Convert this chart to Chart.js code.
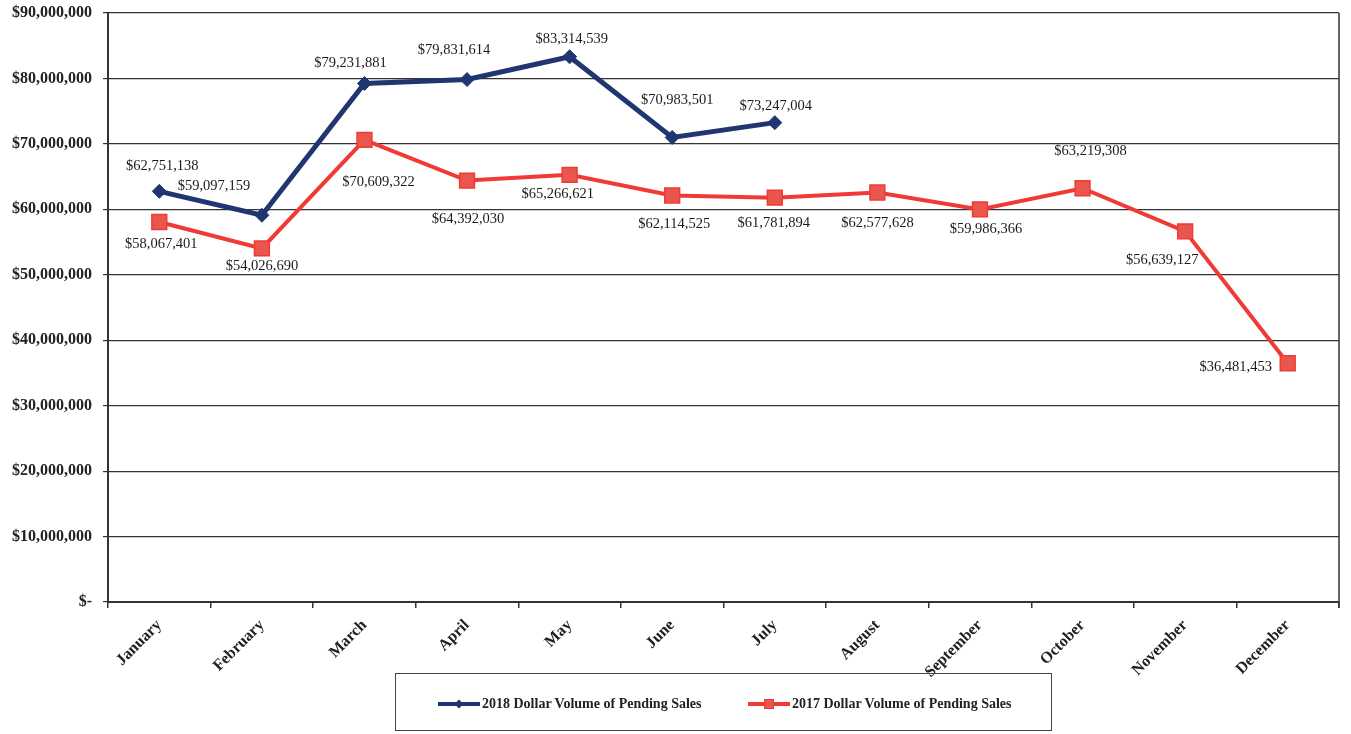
<!DOCTYPE html>
<html>
<head>
<meta charset="utf-8">
<script src="https://cdn.jsdelivr.net/npm/chart.js@4/dist/chart.umd.min.js"></script>
<style>
  html, body { margin: 0; padding: 0; background: #fff; }
  #wrap { position: relative; width: 1351px; height: 734px; }
  #legend {
    position: absolute; left: 395px; top: 673px; width: 657px; height: 58px;
    border: 1px solid #444; box-sizing: border-box;
    font: bold 14px "Liberation Serif", "Times New Roman", serif; color: #222;
  }
  .item { position: absolute; top: 22px; display: flex; align-items: center; }
  .sym { position: relative; width: 42px; height: 12px; margin-right: 2px; }
  .sym .ln { position: absolute; left: 0; right: 0; top: 4px; height: 4px; }
  .sym .mk { position: absolute; left: 17px; top: 2px; width: 8px; height: 8px; }
</style>
</head>
<body>
<div id="wrap">
  <canvas id="chart" width="1351" height="734"></canvas>
  <div id="legend">
    <div class="item" style="left:42px">
      <div class="sym"><div class="ln" style="background:#1f3670"></div><div class="mk" style="background:#1f3670;transform:rotate(45deg) scale(0.8)"></div></div>
      <span>2018 Dollar Volume of Pending Sales</span>
    </div>
    <div class="item" style="left:352px">
      <div class="sym"><div class="ln" style="background:#f03a36"></div><div class="mk" style="background:#e8564e;border:1px solid #f03a36;left:16px;top:1px"></div></div>
      <span>2017 Dollar Volume of Pending Sales</span>
    </div>
  </div>
</div>
<script>
const months = ['January', 'February', 'March', 'April', 'May', 'June', 'July',
  'August', 'September', 'October', 'November', 'December']

const sales2018 = [62751138, 59097159, 79231881, 79831614, 83314539, 70983501, 73247004,
  null, null, null, null, null]
const sales2017 = [58067401, 54026690, 70609322, 64392030, 65266621, 62114525, 61781894,
  62577628, 59986366, 63219308, 56639127, 36481453]

// label offsets from each point, in pixels [dx, dy]
const offsets2018 = [[3, -25], [-48, -29], [-14, -20], [-13, -29], [2, -18], [5, -37], [1, -16]]
const offsets2017 = [[2, 22], [0, 18], [14, 42], [1, 39], [-12, 19], [2, 29], [-1, 26],
  [0, 31], [6, 20], [8, -37], [-23, 29], [-52, 4]]

const fmtMoney = v => '$' + v.toLocaleString('en-US')

const valueLabels = {
  id: 'valueLabels',
  afterDatasetsDraw(chart) {
    const ctx = chart.ctx
    ctx.save()
    ctx.font = '14.5px "Liberation Serif", "Times New Roman", serif'
    ctx.fillStyle = '#1a1a1a'
    ctx.textAlign = 'center'
    ctx.textBaseline = 'middle'
    const sets = [offsets2018, offsets2017]
    chart.data.datasets.forEach((ds, i) => {
      const meta = chart.getDatasetMeta(i)
      meta.data.forEach((pt, j) => {
        const v = ds.data[j]
        if (v == null) return
        const off = sets[i][j]
        ctx.fillText(fmtMoney(v), pt.x + off[0], pt.y + off[1])
      })
    })
    ctx.restore()
  }
}

const frame = {
  id: 'frame',
  beforeDatasetsDraw(chart) {
    const { ctx, chartArea: a } = chart
    ctx.save()
    ctx.strokeStyle = '#333'
    ctx.lineWidth = 1.5
    ctx.beginPath()
    ctx.moveTo(a.right, a.top)
    ctx.lineTo(a.right, a.bottom + 6)
    ctx.stroke()
    ctx.restore()
  }
}

const serif = '"Liberation Serif", "Times New Roman", serif'

new Chart(document.getElementById('chart').getContext('2d'), {
  type: 'line',
  data: {
    labels: months,
    datasets: [{
      label: '2018 Dollar Volume of Pending Sales',
      data: sales2018,
      borderColor: '#1f3670',
      backgroundColor: '#1f3670',
      borderWidth: 5,
      pointStyle: 'rectRot',
      pointRadius: 7,
      pointBorderWidth: 1,
      spanGaps: false,
      tension: 0
    }, {
      label: '2017 Dollar Volume of Pending Sales',
      data: sales2017,
      borderColor: '#f03a36',
      backgroundColor: '#e8564e',
      borderWidth: 4,
      pointStyle: 'rect',
      pointRadius: 10.5,
      pointBorderWidth: 1.5,
      tension: 0
    }]
  },
  options: {
    responsive: false,
    animation: false,
    layout: { padding: { top: 13, right: -4, left: 0, bottom: 0 } },
    plugins: {
      legend: { display: false },
      tooltip: { enabled: false }
    },
    scales: {
      x: {
        offset: true,
        grid: { offset: true, drawOnChartArea: false, drawTicks: true, tickLength: 6, color: '#333', lineWidth: 1.5 },
        border: { color: '#333', width: 2 },
        ticks: {
          minRotation: 45, maxRotation: 45, color: '#222', padding: 8,
          font: { family: serif, size: 16, weight: 'bold' }
        },
        afterFit: s => {
          s.height = 132
          s.paddingLeft = 0
          s.paddingRight = 0
        }
      },
      y: {
        min: 0, max: 90000000,
        ticks: {
          stepSize: 10000000, color: '#222', padding: 11,
          font: { family: serif, size: 16, weight: 'bold' },
          callback: v => v === 0 ? '$-' : fmtMoney(v)
        },
        grid: { color: '#333', lineWidth: 1.2, tickLength: 5 },
        border: { color: '#333', width: 2 },
        afterFit: s => {
          s.width = 108
          s.paddingTop = 0
          s.paddingBottom = 0
        }
      }
    }
  },
  plugins: [valueLabels, frame]
})
</script>
</body>
</html>
